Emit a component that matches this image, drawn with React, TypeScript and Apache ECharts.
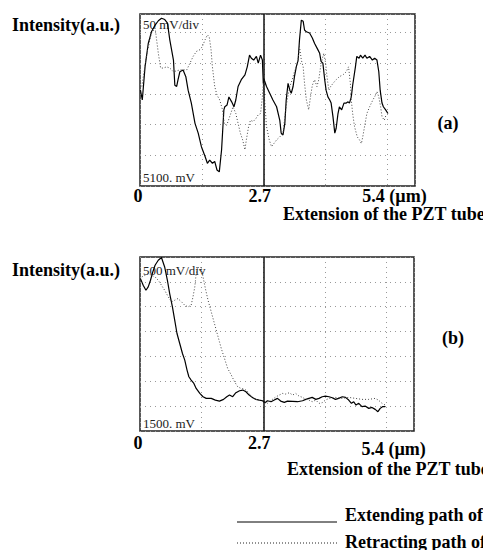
import React, { useEffect, useRef } from "react";
import * as echarts from "echarts";

// x in µm, y in mV
const extendA: [number, number][] = [
  [0.01, 5256], [0.05, 5240], [0.11, 5294], [0.18, 5332], [0.25, 5351], [0.33, 5362], [0.4, 5369],
  [0.47, 5373], [0.54, 5371], [0.6, 5365], [0.65, 5338], [0.73, 5305], [0.76, 5264], [0.8, 5262],
  [0.83, 5273], [0.87, 5286], [0.94, 5289], [1.0, 5278], [1.05, 5256], [1.12, 5235], [1.2, 5202],
  [1.27, 5186], [1.34, 5164], [1.42, 5148], [1.47, 5137], [1.52, 5142], [1.58, 5137], [1.63, 5140],
  [1.68, 5126], [1.73, 5123], [1.78, 5159], [1.83, 5224], [1.85, 5229], [1.9, 5232], [1.94, 5245],
  [2.0, 5237], [2.05, 5229], [2.09, 5240], [2.14, 5262], [2.21, 5273], [2.29, 5281], [2.34, 5294],
  [2.39, 5313], [2.43, 5308], [2.48, 5305], [2.54, 5311], [2.58, 5300], [2.63, 5313], [2.67, 5305],
  [2.69, 5267], [2.7, 5275], [2.76, 5262], [2.83, 5251], [2.9, 5240], [2.98, 5229], [3.05, 5207],
  [3.08, 5186], [3.12, 5183], [3.16, 5202], [3.19, 5240], [3.23, 5267], [3.27, 5256], [3.3, 5251],
  [3.34, 5262], [3.37, 5278], [3.41, 5294], [3.45, 5305], [3.48, 5338], [3.52, 5370], [3.56, 5368],
  [3.59, 5354], [3.63, 5351], [3.7, 5349], [3.76, 5341], [3.81, 5332], [3.88, 5322], [3.92, 5316],
  [3.95, 5303], [3.99, 5300], [4.03, 5273], [4.06, 5256], [4.1, 5245], [4.14, 5240], [4.17, 5235],
  [4.21, 5213], [4.25, 5186], [4.28, 5194], [4.32, 5218], [4.35, 5229], [4.4, 5224], [4.45, 5235],
  [4.5, 5235], [4.54, 5237], [4.57, 5235], [4.61, 5245], [4.64, 5264], [4.7, 5294], [4.73, 5311],
  [4.78, 5308], [4.81, 5313], [4.86, 5308], [4.91, 5313], [4.95, 5308], [5.01, 5311], [5.07, 5305],
  [5.12, 5308], [5.17, 5305], [5.21, 5286], [5.24, 5256], [5.28, 5235], [5.31, 5229], [5.36, 5224],
  [5.41, 5218],
];

const retractA: [number, number][] = [
  [0.04, 5262], [0.15, 5316], [0.25, 5349], [0.33, 5357], [0.4, 5316], [0.45, 5292], [0.51, 5292],
  [0.58, 5294], [0.65, 5292], [0.73, 5286], [0.87, 5289], [1.02, 5289], [1.09, 5300], [1.16, 5311],
  [1.23, 5319], [1.31, 5322], [1.36, 5327], [1.42, 5338], [1.47, 5346], [1.51, 5343], [1.55, 5322],
  [1.58, 5294], [1.63, 5262], [1.68, 5248], [1.74, 5240], [1.8, 5224], [1.84, 5202], [1.89, 5199],
  [1.93, 5207], [1.98, 5218], [2.03, 5229], [2.09, 5218], [2.14, 5202], [2.19, 5186], [2.24, 5175],
  [2.29, 5159], [2.32, 5175], [2.37, 5197], [2.41, 5207], [2.47, 5205], [2.53, 5210], [2.58, 5216],
  [2.63, 5218], [2.67, 5245], [2.69, 5267], [2.72, 5240], [2.76, 5197], [2.82, 5175], [2.87, 5164],
  [2.92, 5169], [2.98, 5175], [3.05, 5180], [3.12, 5186], [3.16, 5213], [3.21, 5240], [3.27, 5262],
  [3.32, 5273], [3.37, 5286], [3.41, 5294], [3.45, 5305], [3.48, 5327], [3.52, 5305], [3.56, 5294],
  [3.59, 5267], [3.63, 5240], [3.68, 5224], [3.72, 5245], [3.76, 5264], [3.81, 5273], [3.86, 5262],
  [3.9, 5273], [3.94, 5294], [3.98, 5308], [4.01, 5316], [4.05, 5300], [4.08, 5278], [4.12, 5256],
  [4.16, 5262], [4.21, 5267], [4.28, 5273], [4.35, 5278], [4.43, 5281], [4.5, 5286], [4.55, 5294],
  [4.59, 5267], [4.61, 5240], [4.64, 5218], [4.68, 5197], [4.74, 5180], [4.79, 5175], [4.83, 5169],
  [4.86, 5180], [4.9, 5197], [4.95, 5218], [5.01, 5229], [5.08, 5240], [5.14, 5248], [5.17, 5254],
  [5.21, 5245], [5.25, 5229], [5.28, 5213], [5.33, 5207], [5.37, 5216],
];

const extendB: [number, number][] = [
  [0.01, 4565], [0.07, 4432], [0.13, 4331], [0.18, 4398], [0.23, 4532], [0.28, 4699], [0.33, 4833],
  [0.4, 4934], [0.47, 4990], [0.54, 4800], [0.6, 4532], [0.65, 4264], [0.71, 3996], [0.76, 3729],
  [0.81, 3461], [0.87, 3260], [0.93, 3059], [0.98, 2926], [1.03, 2725], [1.07, 2591], [1.12, 2524],
  [1.18, 2457], [1.23, 2357], [1.31, 2256], [1.38, 2189], [1.45, 2156], [1.56, 2156], [1.65, 2122],
  [1.74, 2102], [1.83, 2136], [1.9, 2189], [1.96, 2223], [2.03, 2189], [2.1, 2270], [2.18, 2310],
  [2.25, 2323], [2.32, 2290], [2.39, 2223], [2.47, 2169], [2.54, 2136], [2.61, 2122], [2.69, 2109],
  [2.74, 2069], [2.79, 2109], [2.87, 2089], [2.94, 2122], [3.01, 2156], [3.08, 2102], [3.16, 2076],
  [3.23, 2102], [3.34, 2096], [3.45, 2089], [3.56, 2109], [3.63, 2136], [3.7, 2156], [3.77, 2176],
  [3.85, 2136], [3.92, 2156], [3.99, 2189], [4.06, 2203], [4.14, 2189], [4.21, 2169], [4.28, 2136],
  [4.35, 2156], [4.43, 2189], [4.5, 2176], [4.57, 2122], [4.63, 2056], [4.68, 2089], [4.73, 2022],
  [4.79, 2056], [4.86, 1989], [4.93, 2002], [5.01, 1955], [5.08, 1975], [5.15, 1935], [5.21, 1888],
  [5.26, 1955], [5.31, 1989], [5.37, 1989],
];

const retractB: [number, number][] = [
  [0.04, 4599], [0.11, 4632], [0.18, 4666], [0.25, 4632], [0.33, 4599], [0.4, 4532], [0.47, 4432],
  [0.54, 4331], [0.62, 4197], [0.69, 4097], [0.76, 4130], [0.83, 4164], [0.91, 4097], [0.98, 4030],
  [1.05, 3996], [1.12, 4030], [1.16, 4197], [1.2, 4398], [1.23, 4666], [1.27, 4800], [1.31, 4733],
  [1.34, 4800], [1.38, 4599], [1.44, 4331], [1.49, 4130], [1.56, 3896], [1.63, 3662], [1.71, 3394],
  [1.78, 3160], [1.85, 2959], [1.92, 2758], [2.0, 2624], [2.07, 2491], [2.14, 2390], [2.21, 2357],
  [2.29, 2343], [2.36, 2290], [2.43, 2203], [2.5, 2156], [2.58, 2122], [2.65, 2109], [2.72, 2089],
  [2.79, 2056], [2.84, 2102], [2.9, 2136], [2.98, 2189], [3.05, 2223], [3.12, 2256], [3.19, 2243],
  [3.27, 2270], [3.34, 2223], [3.41, 2256], [3.48, 2203], [3.56, 2176], [3.63, 2136], [3.7, 2122],
  [3.77, 2089], [3.85, 2122], [3.92, 2056], [3.99, 2069], [4.06, 2122], [4.14, 2156], [4.28, 2176],
  [4.43, 2156], [4.57, 2176], [4.72, 2156], [4.86, 2136], [5.01, 2136], [5.15, 2156], [5.22, 2122],
  [5.3, 2056], [5.37, 2022],
];

const tickValues = [0, 2.7, 5.4];
const tickLabels = ["0", "2.7", "5.4 (µm)"];
const seriesNames = ["Extending path of", "Retracting path of"];
const scaleLabelsA = ["50 mV/div", "5100. mV"];
const scaleLabelsB = ["500 mV/div", "1500. mV"];
const yTitle = "Intensity(a.u.)";
const xTitle = "Extension of the PZT tube";
const panelTags = ["(a)", "(b)"];

const SERIF = '"Liberation Serif", "Times New Roman", serif';
const BIG = 18;

function labelFormatter(v: number) {
  const i = tickValues.findIndex((t) => Math.abs(t - v) < 1e-6);
  if (i < 0) return "";
  return `{t${i}|${tickLabels[i]}}`;
}

export default function App() {
  const ref = useRef<HTMLDivElement>(null);
  useEffect(() => {
    document.body.style.margin = "0";
    if (!ref.current) return;
    const chart = echarts.init(ref.current, undefined, { renderer: "svg" });
    const splitStyle = { show: true, lineStyle: { color: "#999", type: [1, 4] as any, width: 1 } };
    const baseLabel = {
      fontFamily: SERIF,
      fontWeight: "bold" as const,
      fontSize: BIG,
      color: "#000",
    };
    const xAxisFor = (gridIndex: number, margin: number, lastPadTop: number) => ({
      type: "value" as const,
      gridIndex,
      min: 0,
      max: 6,
      interval: 1.35,
      axisLine: { show: false },
      axisTick: { show: false },
      splitLine: splitStyle,
      axisLabel: {
        ...baseLabel,
        margin,
        showMaxLabel: false,
        formatter: labelFormatter,
        rich: {
          t0: { ...baseLabel, padding: [0, 4, 0, 0] },
          t1: { ...baseLabel, padding: [0, 8, 0, 0] },
          t2: { ...baseLabel, padding: [lastPadTop, 0, 0, 14] },
        },
      },
    });
    const yAxisFor = (gridIndex: number, min: number, max: number, interval: number) => ({
      type: "value" as const,
      gridIndex,
      min,
      max,
      interval,
      axisLine: { show: false },
      axisTick: { show: false },
      axisLabel: { show: false },
      splitLine: splitStyle,
    });
    const centerLine = {
      silent: true,
      symbol: "none",
      label: { show: false },
      lineStyle: { color: "#111", type: "solid" as const, width: 1.5 },
      data: [{ xAxis: 2.7 }],
    };
    const solidStyle = { color: "#000", width: 1.2, type: "solid" as const };
    const dottedStyle = { color: "#444", width: 1, type: [1, 2] as any };
    const mkSeries = (name: string, data: [number, number][], idx: number, style: any, withMark: boolean) => ({
      type: "line" as const,
      name,
      xAxisIndex: idx,
      yAxisIndex: idx,
      data,
      showSymbol: false,
      symbol: "none",
      lineStyle: style,
      clip: true,
      ...(withMark ? { markLine: centerLine } : {}),
    });
    const txt = (text: string, x: number, y: number, opts: any = {}) => ({
      type: "text" as const,
      style: {
        text,
        x,
        y,
        fill: opts.fill || "#000",
        fontFamily: SERIF,
        fontSize: opts.fontSize || BIG,
        fontWeight: opts.fontWeight || "bold",
        align: opts.align || "left",
        verticalAlign: "middle",
        textAlign: opts.align || "left",
        textVerticalAlign: "middle",
      },
    });
    const small = { fontSize: 13, fontWeight: "normal", fill: "#222" };
    chart.setOption({
      animation: false,
      backgroundColor: "#fff",
      grid: [
        { left: 140, top: 14, width: 275, height: 172, show: true, borderColor: "#222", borderWidth: 1.5, backgroundColor: "transparent" },
        { left: 140, top: 257, width: 274, height: 174, show: true, borderColor: "#222", borderWidth: 1.5, backgroundColor: "transparent" },
      ],
      xAxis: [xAxisFor(0, 1, 0), xAxisFor(1, 3, 6)],
      yAxis: [yAxisFor(0, 5100, 5380, 50), yAxisFor(1, 1500, 5000, 500)],
      series: [
        mkSeries(seriesNames[0], extendA, 0, solidStyle, true),
        mkSeries(seriesNames[1], retractA, 0, dottedStyle, false),
        mkSeries(seriesNames[0], extendB, 1, solidStyle, true),
        mkSeries(seriesNames[1], retractB, 1, dottedStyle, false),
      ],
      graphic: [
        txt(yTitle, 12, 25),
        txt(yTitle, 12, 270),
        txt(scaleLabelsA[0], 143, 24, small),
        txt(scaleLabelsA[1], 143, 177, small),
        txt(scaleLabelsB[0], 143, 270, small),
        txt(scaleLabelsB[1], 143, 423, small),
        txt(panelTags[0], 448, 123, { align: "center" }),
        txt(panelTags[1], 453, 338, { align: "center" }),
        txt(xTitle, 283, 214),
        txt(xTitle, 287, 469),
        { type: "line", shape: { x1: 237, y1: 522, x2: 337, y2: 522 }, style: { stroke: "#000", lineWidth: 1 } },
        { type: "line", shape: { x1: 237, y1: 543, x2: 337, y2: 543 }, style: { stroke: "#222", lineWidth: 1, lineDash: [1, 2] } },
        txt(seriesNames[0], 345, 515),
        txt(seriesNames[1], 345, 542),
      ],
    });
    return () => chart.dispose();
  }, []);
  return <div ref={ref} style={{ width: 483, height: 550 }} />;
}
